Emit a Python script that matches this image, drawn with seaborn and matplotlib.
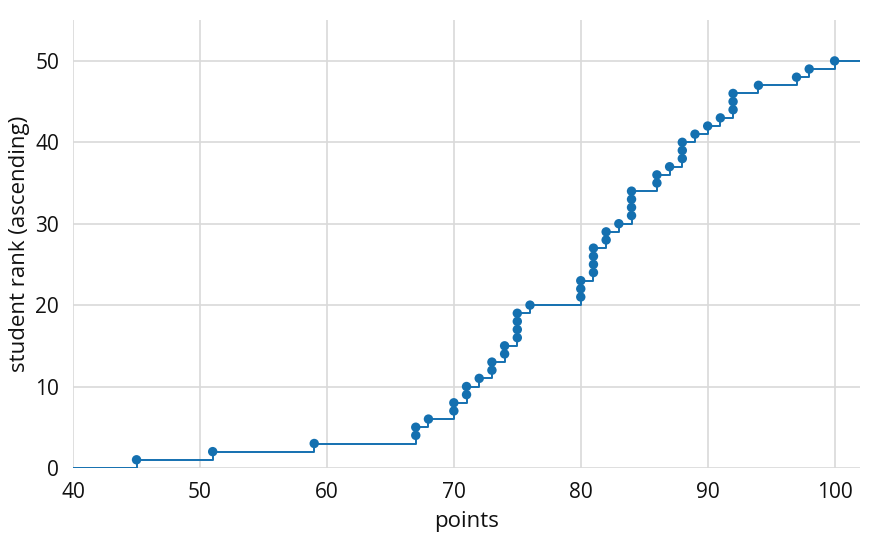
import pandas as pd
import matplotlib.pyplot as plt
import seaborn as sns

# student scores, sorted ascending (rank 1..50)
points = [45, 51, 59, 67, 67, 68, 70, 70, 71, 71,
          72, 73, 73, 74, 74, 75, 75, 75, 75, 76,
          80, 80, 80, 81, 81, 81, 81, 82, 82, 83,
          84, 84, 84, 84, 86, 86, 87, 88, 88, 88,
          89, 90, 91, 92, 92, 92, 94, 97, 98, 100]
ranks = list(range(1, len(points) + 1))

df = pd.DataFrame({'points': points, 'rank': ranks})
step_df = pd.DataFrame({'points': [40] + points + [102],
                        'rank': [0] + ranks + [50]})

sns.set_style('whitegrid', {'grid.color': '#d9d9d9', 'axes.edgecolor': 'white'})
plt.rcParams['font.family'] = ['Open Sans', 'DejaVu Sans']

blue = '#1470b0'
fig, ax = plt.subplots(figsize=(8.7, 5.46), dpi=100)
fig.subplots_adjust(left=0.084, right=0.9885, bottom=0.143, top=0.963)

sns.lineplot(x='points', y='rank', data=step_df, ax=ax, color=blue,
             drawstyle='steps-post', estimator=None, sort=False, linewidth=1.4)
sns.scatterplot(x='points', y='rank', data=df, ax=ax, color=blue,
                s=46, edgecolor='none', zorder=3)

ax.set_xlim(40, 102)
ax.set_ylim(0, 55)
ax.set_xticks(range(40, 101, 10))
ax.set_yticks(range(0, 51, 10))
ax.grid(True, linewidth=1.2)
for s in ax.spines.values():
    s.set_visible(False)
ax.tick_params(axis='both', length=6, width=1.2, color='#d9d9d9',
               labelsize=15, labelcolor='#111111', pad=4)
ax.set_xlabel('points', fontsize=16, color='#111111', labelpad=6)
ax.set_ylabel('student rank (ascending)', fontsize=16, color='#111111')

plt.savefig('out.png')
